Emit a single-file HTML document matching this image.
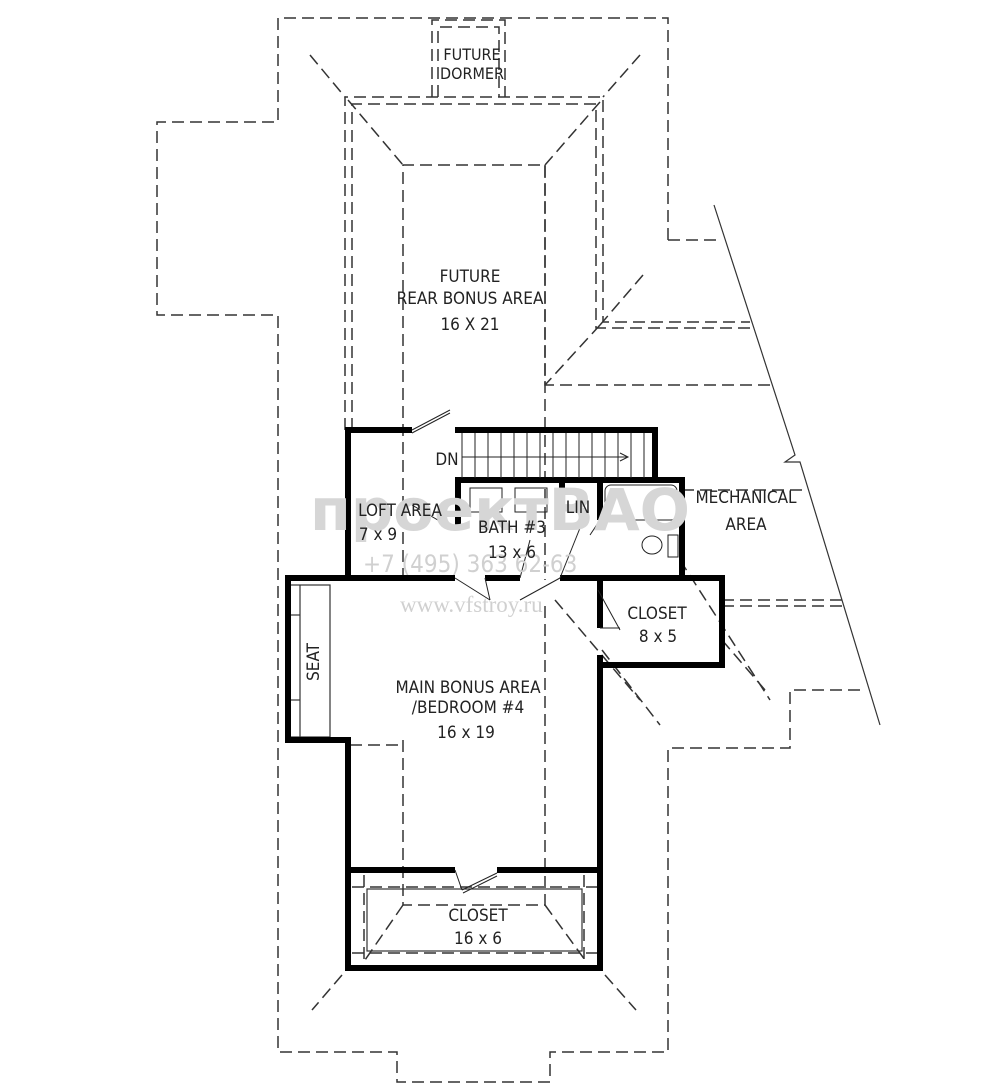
<!DOCTYPE html>
<html><head><meta charset="utf-8"><style>
html,body{margin:0;padding:0;background:#fff}
svg{display:block}
text{font-family:"DejaVu Sans Condensed","Liberation Sans Narrow","Liberation Sans",sans-serif;fill:#222}
</style></head><body>
<svg width="1000" height="1092" viewBox="0 0 1000 1092" xmlns="http://www.w3.org/2000/svg">
<g fill="none" stroke="#333" stroke-width="1.5" stroke-dasharray="12,6">
<polyline points="668,240 668,18 278,18 278,122 157,122 157,315 278,315 278,1052 397,1052 397,1082 550,1082 550,1052 668,1052 668,748 790,748 790,690 865,690"/>
<line x1="668" y1="240" x2="718" y2="240"/>
<polyline points="345,430 345,97 603,97 603,322 750,322"/>
<polyline points="352,430 352,104 596,104 596,328 752,328"/>
<polyline points="432,97 432,20 505,20 505,97"/>
<polyline points="438,97 438,27 499,27 499,97"/>
<polyline points="403,580 403,165 545,165 545,385 770,385"/>
<line x1="545" y1="165" x2="545" y2="580"/>
<line x1="310" y1="55" x2="345" y2="97"/>
<line x1="348" y1="100" x2="403" y2="165"/>
<line x1="640" y1="55" x2="603" y2="97"/>
<line x1="600" y1="102" x2="545" y2="165"/>
<line x1="643" y1="275" x2="600" y2="325"/>
<line x1="600" y1="325" x2="545" y2="385"/>
<line x1="682" y1="490" x2="808" y2="490"/>
<line x1="722" y1="600" x2="845" y2="600"/>
<line x1="722" y1="606" x2="847" y2="606"/>
<line x1="555" y1="600" x2="640" y2="700"/>
<line x1="680" y1="560" x2="770" y2="700"/>
<line x1="722" y1="640" x2="765" y2="690"/>
<line x1="602" y1="650" x2="660" y2="725"/>
<polyline points="403,740 403,905 545,905 545,600"/>
<polyline points="350,745 403,745"/>
<line x1="403" y1="905" x2="365" y2="960"/>
<line x1="545" y1="905" x2="585" y2="960"/>
<line x1="342" y1="975" x2="312" y2="1010"/>
<line x1="605" y1="975" x2="636" y2="1010"/>
<line x1="352" y1="887" x2="600" y2="887"/>
<line x1="352" y1="953" x2="600" y2="953"/>
<line x1="364" y1="875" x2="364" y2="965"/>
<line x1="584" y1="875" x2="584" y2="965"/>
</g>
<g fill="none" stroke="#333" stroke-width="1.2">
<polyline points="714,205 795,455 785,462 800,462 880,725"/>
<rect x="367" y="889" width="215" height="62"/>
<rect x="288" y="585" width="42" height="152"/>
<line x1="288" y1="615" x2="300" y2="615"/><line x1="288" y1="700" x2="300" y2="700"/>
<line x1="300" y1="585" x2="300" y2="737"/>
</g>
<g fill="none" stroke="#000" stroke-width="6">
<polyline points="412,430 348,430 348,578"/>
<polyline points="455,430 655,430 655,480"/>
<polyline points="458,530 458,480 682,480 682,578"/>
<line x1="562" y1="483" x2="562" y2="530"/>
<line x1="600" y1="483" x2="600" y2="520"/>
<polyline points="455,578 288,578 288,740 348,740 348,968 600,968 600,655"/>
<line x1="485" y1="578" x2="520" y2="578"/>
<line x1="560" y1="578" x2="720" y2="578"/>
<polyline points="600,578 722,578 722,665 600,665"/>
<line x1="600" y1="578" x2="600" y2="628"/>
<polyline points="348,870 455,870"/>
<polyline points="497,870 600,870"/>
</g>
<g stroke="#222" stroke-width="1">
<line x1="462" y1="433" x2="462" y2="478"/>
<line x1="475" y1="433" x2="475" y2="478"/><line x1="488" y1="433" x2="488" y2="478"/><line x1="501" y1="433" x2="501" y2="478"/><line x1="514" y1="433" x2="514" y2="478"/><line x1="527" y1="433" x2="527" y2="478"/><line x1="540" y1="433" x2="540" y2="478"/><line x1="553" y1="433" x2="553" y2="478"/><line x1="566" y1="433" x2="566" y2="478"/><line x1="579" y1="433" x2="579" y2="478"/><line x1="592" y1="433" x2="592" y2="478"/><line x1="605" y1="433" x2="605" y2="478"/><line x1="618" y1="433" x2="618" y2="478"/><line x1="631" y1="433" x2="631" y2="478"/><line x1="644" y1="433" x2="644" y2="478"/>
<line x1="462" y1="457" x2="628" y2="457"/>
<polyline points="620,453 628,457 620,461" fill="none"/>
<line x1="412" y1="430" x2="450" y2="410"/><line x1="412" y1="433" x2="450" y2="413"/>
<line x1="412" y1="505" x2="455" y2="530"/>
<line x1="455" y1="578" x2="490" y2="600"/><line x1="490" y1="600" x2="485" y2="578"/>
<line x1="520" y1="578" x2="530" y2="540"/>
<line x1="520" y1="600" x2="560" y2="578"/>
<line x1="560" y1="578" x2="580" y2="528"/>
<line x1="600" y1="520" x2="590" y2="535"/>
<line x1="598" y1="590" x2="620" y2="630"/><line x1="600" y1="628" x2="620" y2="628"/>
<line x1="455" y1="870" x2="462" y2="890"/><line x1="462" y1="890" x2="497" y2="873"/><line x1="463" y1="893" x2="497" y2="876"/>
<rect x="470" y="488" width="32" height="24" fill="none"/>
<rect x="515" y="488" width="32" height="24" fill="none"/>
<rect x="605" y="485" width="72" height="35" rx="6" fill="none"/>
<ellipse cx="652" cy="545" rx="10" ry="9" fill="none"/>
<rect x="668" y="535" width="10" height="22" fill="none"/>
</g>
<g>
<text x="310" y="530" style="font-size:58px;font-weight:bold;fill:#d6d6d6" textLength="380" lengthAdjust="spacingAndGlyphs">проектВАО</text>
<text x="363" y="572" style="font-size:24px;fill:#d0d0d0">+7 (495) 363 62-63</text>
<text x="400" y="612" style="font-size:23px;fill:#d0d0d0;font-family:'Liberation Serif',serif">www.vfstroy.ru</text>
</g>
<g style="font-size:17px" text-anchor="middle">
<text x="472" y="60" style="font-size:16px">FUTURE</text>
<text x="472" y="79" style="font-size:16px">DORMER</text>
<text x="470" y="282">FUTURE</text>
<text x="470" y="304">REAR BONUS AREA</text>
<text x="470" y="330">16 X 21</text>
<text x="447" y="465">DN</text>
<text x="400" y="516">LOFT AREA</text>
<text x="378" y="540">7 x 9</text>
<text x="512" y="533">BATH #3</text>
<text x="512" y="558">13 x 6</text>
<text x="578" y="513">LIN</text>
<text x="746" y="503">MECHANICAL</text>
<text x="746" y="530">AREA</text>
<text x="657" y="619">CLOSET</text>
<text x="658" y="642">8 x 5</text>
<text x="468" y="693">MAIN BONUS AREA</text>
<text x="468" y="713">/BEDROOM #4</text>
<text x="466" y="738">16 x 19</text>
<text x="478" y="921">CLOSET</text>
<text x="478" y="944">16 x 6</text>
<text transform="translate(319,662) rotate(-90)">SEAT</text>
</g>
</svg>
</body></html>
